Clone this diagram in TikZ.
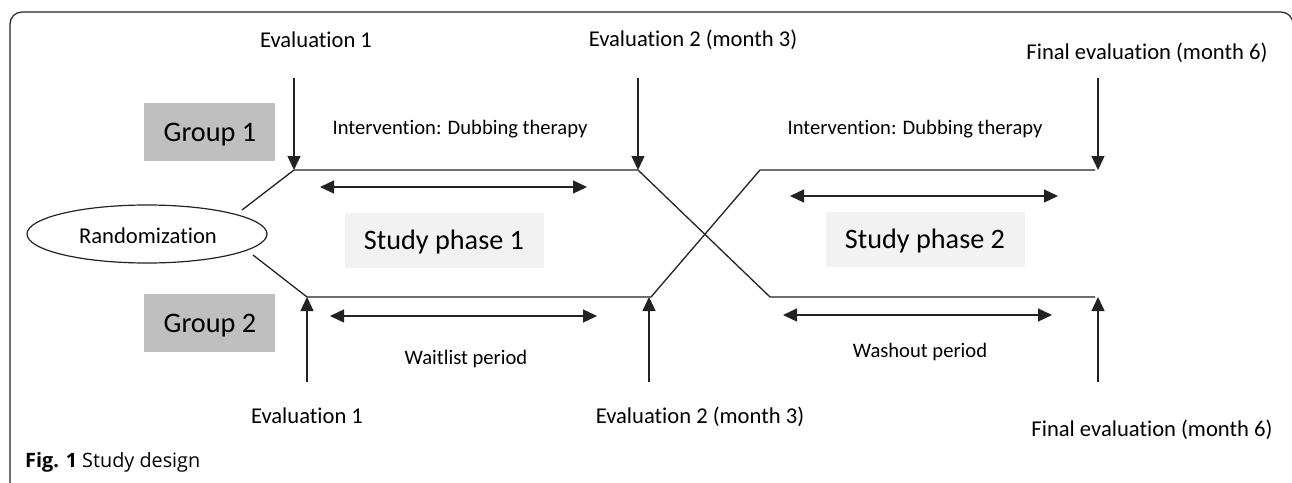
\documentclass[tikz,border=0pt]{standalone}
\usepackage{fontspec}
\setmainfont{Carlito}[Ligatures={NoCommon}]
\newfontfamily\capfont{Open Sans}[Ligatures={NoCommon}]
\usetikzlibrary{arrows.meta,shapes.geometric}
\definecolor{lineC}{HTML}{222222}
\definecolor{grpC}{HTML}{BFBFBF}
\definecolor{phC}{HTML}{F2F2F2}
\tikzset{
  conn/.style={draw=lineC, line width=1.3pt},
  evarrow/.style={conn, -{Triangle[length=14pt,width=13pt]}},
  dblarrow/.style={conn, {Triangle[length=14pt,width=13pt]}-{Triangle[length=14pt,width=13pt]}},
  biglabel/.style={font=\fontsize{22.6}{27}\selectfont, anchor=base, inner sep=0pt},
  smalllabel/.style={font=\fontsize{20.6}{25}\selectfont, anchor=base, inner sep=0pt},
  groupbox/.style={fill=grpC, minimum width=131pt, minimum height=58pt, inner sep=0pt},
  phasebox/.style={fill=phC, minimum width=199pt, minimum height=55pt, inner sep=0pt},
}
\begin{document}
\begin{tikzpicture}[x=1pt,y=-1pt]
\useasboundingbox (0,0) rectangle (1292,482);
% frame
\draw[draw=lineC, line width=1.2pt, rounded corners=12pt] (10,490) -- (10,12) -- (1293,12) -- (1293,490);

% group and phase boxes
\node[groupbox] (grp1) at (209.5,132) {};
\node[biglabel, font=\fontsize{28.3}{34}\selectfont] (grp1t) at (210,141) {Group 1};
\node[groupbox] (grp2) at (209.5,322.5) {};
\node[biglabel, font=\fontsize{28.3}{34}\selectfont] (grp2t) at (210,332) {Group 2};
\node[phasebox] (ph1) at (444.5,240.5) {};
\node[biglabel, font=\fontsize{28.2}{34}\selectfont] (ph1t) at (444,249) {Study phase 1};
\node[phasebox] (ph2) at (925,239.5) {};
\node[biglabel, font=\fontsize{28.2}{34}\selectfont] (ph2t) at (925,248) {Study phase 2};

% randomization
\node[ellipse, draw=lineC, line width=1.2pt, minimum width=240pt, minimum height=58pt, inner sep=0pt] (rand) at (147,234) {};
\node[biglabel] (randt) at (148,243) {Randomization};

% junction coordinates
\coordinate (r1) at (242,210);
\coordinate (r2) at (253,255);
\coordinate (a1) at (294,170);
\coordinate (b1) at (638,170);
\coordinate (c1) at (760,170);
\coordinate (d1) at (1095,170);
\coordinate (a2) at (307,297);
\coordinate (b2) at (651,297);
\coordinate (c2) at (770,297);
\coordinate (d2) at (1095,297);

% paths
\draw[conn] (r1) -- (a1) -- (b1) -- (c2) -- (d2);
\draw[conn] (r2) -- (a2) -- (b2) -- (c1) -- (d1);

% evaluation labels
\node[biglabel] (e1t) at (316,47) {Evaluation 1};
\node[biglabel] (e2t) at (693,46) {Evaluation 2 (month 3)};
\node[biglabel] (e3t) at (1147,59) {Final evaluation (month 6)};
\node[biglabel] (e1b) at (307,423) {Evaluation 1};
\node[biglabel] (e2b) at (700,423) {Evaluation 2 (month 3)};
\node[biglabel] (e3b) at (1152,436) {Final evaluation (month 6)};

% evaluation arrows
\coordinate (e1s) at (294,78);
\coordinate (e2s) at (638,78);
\coordinate (e3s) at (1098,78);
\coordinate (e3e) at (1098,170);
\coordinate (f1s) at (307,382);
\coordinate (f2s) at (649,382);
\coordinate (f2e) at (649,297);
\coordinate (f3s) at (1098,382);
\coordinate (f3e) at (1098,297);
\draw[evarrow] (e1s) -- (a1);
\draw[evarrow] (e2s) -- (b1);
\draw[evarrow] (e3s) -- (e3e);
\draw[evarrow] (f1s) -- (a2);
\draw[evarrow] (f2s) -- (f2e);
\draw[evarrow] (f3s) -- (f3e);

% period labels
\node[smalllabel] (int1) at (460,134) {Intervention: Dubbing therapy};
\node[smalllabel] (int2) at (915,134) {Intervention: Dubbing therapy};
\node[smalllabel] (wait) at (466,364) {Waitlist period};
\node[smalllabel] (wash) at (920,357) {Washout period};

% double arrows
\coordinate (u1l) at (320,187); \coordinate (u1r) at (587,187);
\coordinate (u2l) at (790,196); \coordinate (u2r) at (1058,196);
\coordinate (l1l) at (330,316); \coordinate (l1r) at (597,316);
\coordinate (l2l) at (783,315); \coordinate (l2r) at (1052,315);
\draw[dblarrow] (u1l) -- (u1r);
\draw[dblarrow] (u2l) -- (u2r);
\draw[dblarrow] (l1l) -- (l1r);
\draw[dblarrow] (l2l) -- (l2r);

% caption
\node[anchor=base west, inner sep=0pt, font=\capfont\fontsize{19.8}{24}\selectfont] (cap) at (25,467) {\textbf{Fig. 1} Study design};
\end{tikzpicture}
\end{document}
